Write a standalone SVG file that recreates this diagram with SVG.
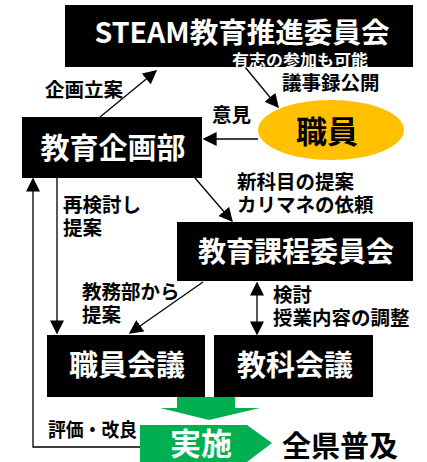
<svg xmlns="http://www.w3.org/2000/svg" width="427" height="462" viewBox="0 0 427 462">
<defs>
<style>
text{font-family:"Noto Sans CJK JP","Noto Sans",sans-serif;font-weight:bold}
.box{fill:#000}
.title{fill:#fff;text-anchor:middle;dominant-baseline:central}
.lbl{fill:#000;font-size:19.5px}
.ln{stroke:#000;stroke-width:1.3;fill:none}
</style>
<marker id="ahb" viewBox="0 0 10 10" refX="9" refY="5" markerWidth="14" markerHeight="14" markerUnits="userSpaceOnUse" orient="auto-start-reverse">
<path d="M0,0 L10,5 L0,10 z" fill="#000"/>
</marker>
</defs>
<rect width="427" height="462" fill="#fff"/>
<g id="connectors">
<line class="ln" x1="100" y1="117" x2="156" y2="71" marker-end="url(#ahb)"/>
<line class="ln" x1="245" y1="67" x2="278" y2="107" marker-end="url(#ahb)"/>
<line class="ln" x1="258" y1="139" x2="204" y2="139" marker-end="url(#ahb)"/>
<line class="ln" x1="195" y1="178" x2="232" y2="221" marker-end="url(#ahb)"/>
<line class="ln" x1="57" y1="178" x2="57" y2="333" marker-end="url(#ahb)"/>
<polyline class="ln" points="140,447 33,447 33,179" marker-end="url(#ahb)"/>
<line class="ln" x1="203" y1="282" x2="130" y2="333" marker-end="url(#ahb)"/>
<line class="ln" x1="257" y1="283" x2="257" y2="334" marker-start="url(#ahb)" marker-end="url(#ahb)"/>
<text class="lbl" x="45" y="97">企画立案</text>
<text class="lbl" x="282" y="90">議事録公開</text>
<text class="lbl" x="212" y="122">意見</text>
<text class="lbl" x="237" y="189">新科目の提案</text>
<text class="lbl" x="237" y="212">カリマネの依頼</text>
<text class="lbl" x="63" y="212">再検討し</text>
<text class="lbl" x="63" y="235">提案</text>
<text class="lbl" x="82" y="299">教務部から</text>
<text class="lbl" x="82" y="322">提案</text>
<text class="lbl" x="273" y="302">検討</text>
<text class="lbl" x="273" y="325">授業内容の調整</text>
<text class="lbl" x="48" y="437" textLength="89" lengthAdjust="spacingAndGlyphs">評価・改良</text>
</g>
<g id="steam">
<rect class="box" x="65" y="5" width="348" height="62"/>
<text class="title" x="242" y="31" font-size="28" textLength="295" lengthAdjust="spacingAndGlyphs">STEAM教育推進委員会</text>
<text class="title" x="300" y="58.5" font-size="16" textLength="136" lengthAdjust="spacingAndGlyphs">有志の参加も可能</text>
</g>
<g id="kikaku">
<rect class="box" x="22" y="117" width="180" height="61"/>
<text class="title" x="113" y="146" font-size="29">教育企画部</text>
</g>
<g id="shokuin">
<ellipse cx="331" cy="130" rx="73" ry="30" fill="#FFC000"/>
<text x="327" y="129" font-size="31" fill="#000" text-anchor="middle" dominant-baseline="central">職員</text>
</g>
<g id="katei">
<rect class="box" x="177" y="222" width="236" height="59"/>
<text class="title" x="296" y="250" font-size="28">教育課程委員会</text>
</g>
<g id="shokuinkaigi">
<rect class="box" x="47" y="335" width="158" height="62"/>
<text class="title" x="127" y="363" font-size="29">職員会議</text>
</g>
<g id="kyokakaigi">
<rect class="box" x="214" y="335" width="159" height="62"/>
<text class="title" x="295" y="363" font-size="29">教科会議</text>
</g>
<g id="jisshi">
<path d="M177,397 H235 V408 H260 L209,420 L160,408 H177 Z" fill="#00B050"/>
<path d="M140,425 H247 L272,443 L247,462 H140 Z" fill="#00B050"/>
<text class="title" x="201" y="441" font-size="31">実施</text>
</g>
<g id="zenken">
<text x="340" y="444" font-size="29" fill="#000" text-anchor="middle" dominant-baseline="central">全県普及</text>
</g>
</svg>
